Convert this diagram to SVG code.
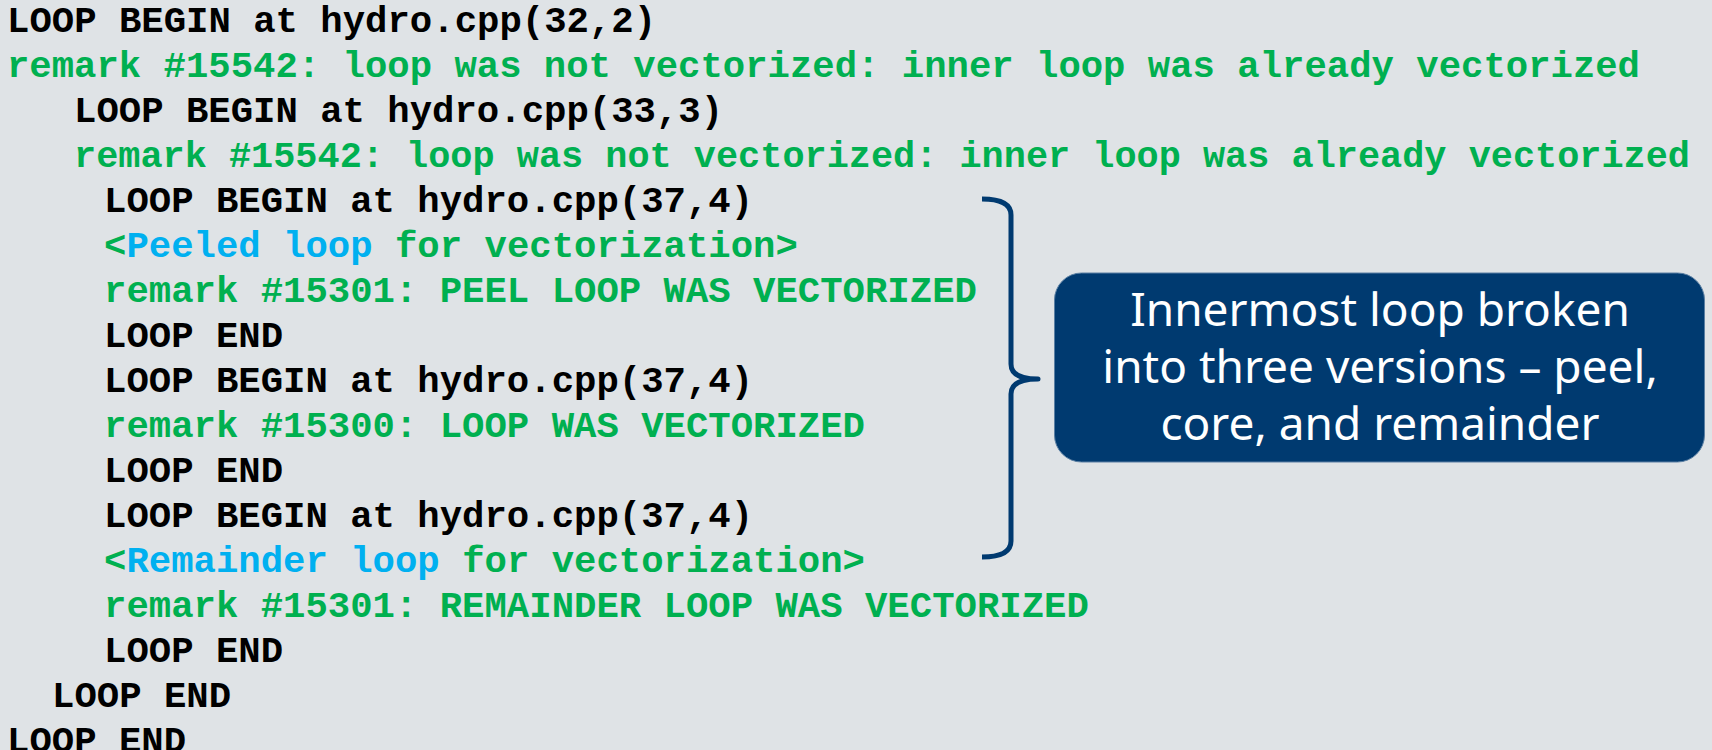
<svg xmlns="http://www.w3.org/2000/svg" width="1712" height="750" viewBox="0 0 1712 750">
  <style>
    .code { font-family: "Liberation Mono", "Courier New", monospace; font-weight: bold; font-size: 37.3px; white-space: pre; }
    .k { fill: #000000; }
    .g { fill: #00B050; }
    .b { fill: #00B0F0; }
    .note { font-family: "Noto Sans", "Open Sans", sans-serif; font-size: 46px; fill: #FFFFFF; text-anchor: middle; }
    .brace { fill: none; stroke: #003A70; stroke-width: 5; stroke-linecap: butt; stroke-linejoin: round; }
  </style>
  <rect width="1712" height="750" fill="#DFE3E6"/>

  <!-- compiler optimization report -->
  <g id="report" class="code">
    <text x="7" y="32" class="k">LOOP BEGIN at hydro.cpp(32,2)</text>
    <text x="7" y="77" class="g" textLength="1633" lengthAdjust="spacingAndGlyphs">remark #15542: loop was not vectorized: inner loop was already vectorized</text>
    <text x="74" y="122" class="k">LOOP BEGIN at hydro.cpp(33,3)</text>
    <text x="74" y="167" class="g" textLength="1616" lengthAdjust="spacingAndGlyphs">remark #15542: loop was not vectorized: inner loop was already vectorized</text>
    <text x="104" y="212" class="k">LOOP BEGIN at hydro.cpp(37,4)</text>
    <text x="104" y="257" class="g">&lt;<tspan class="b">Peeled loop</tspan> for vectorization&gt;</text>
    <text x="104" y="302" class="g">remark #15301: PEEL LOOP WAS VECTORIZED</text>
    <text x="104" y="347" class="k">LOOP END</text>
    <text x="104" y="392" class="k">LOOP BEGIN at hydro.cpp(37,4)</text>
    <text x="104" y="437" class="g">remark #15300: LOOP WAS VECTORIZED</text>
    <text x="104" y="482" class="k">LOOP END</text>
    <text x="104" y="527" class="k">LOOP BEGIN at hydro.cpp(37,4)</text>
    <text x="104" y="572" class="g">&lt;<tspan class="b">Remainder loop</tspan> for vectorization&gt;</text>
    <text x="104" y="617" class="g">remark #15301: REMAINDER LOOP WAS VECTORIZED</text>
    <text x="104" y="662" class="k">LOOP END</text>
    <text x="52" y="707" class="k">LOOP END</text>
    <text x="7" y="752" class="k">LOOP END</text>
  </g>

  <!-- curly brace grouping the three inner loops -->
  <g id="connectors">
    <path class="brace" d="M982,199 C1000,199 1011,203 1011,215 L1011,364 C1011,374 1020,379 1038,379 C1020,379 1011,384 1011,394 L1011,541 C1011,553 1000,557 982,557"/>
  </g>

  <!-- callout -->
  <g id="callout">
    <rect x="1054.5" y="273" width="650" height="189" rx="27" ry="27" fill="#003A70" stroke="#5A7FA3" stroke-width="1"/>
    <text class="note" x="1380" y="326">Innermost loop broken</text>
    <text class="note" x="1380" y="383">into three versions – peel,</text>
    <text class="note" x="1380" y="440">core, and remainder</text>
  </g>
</svg>
